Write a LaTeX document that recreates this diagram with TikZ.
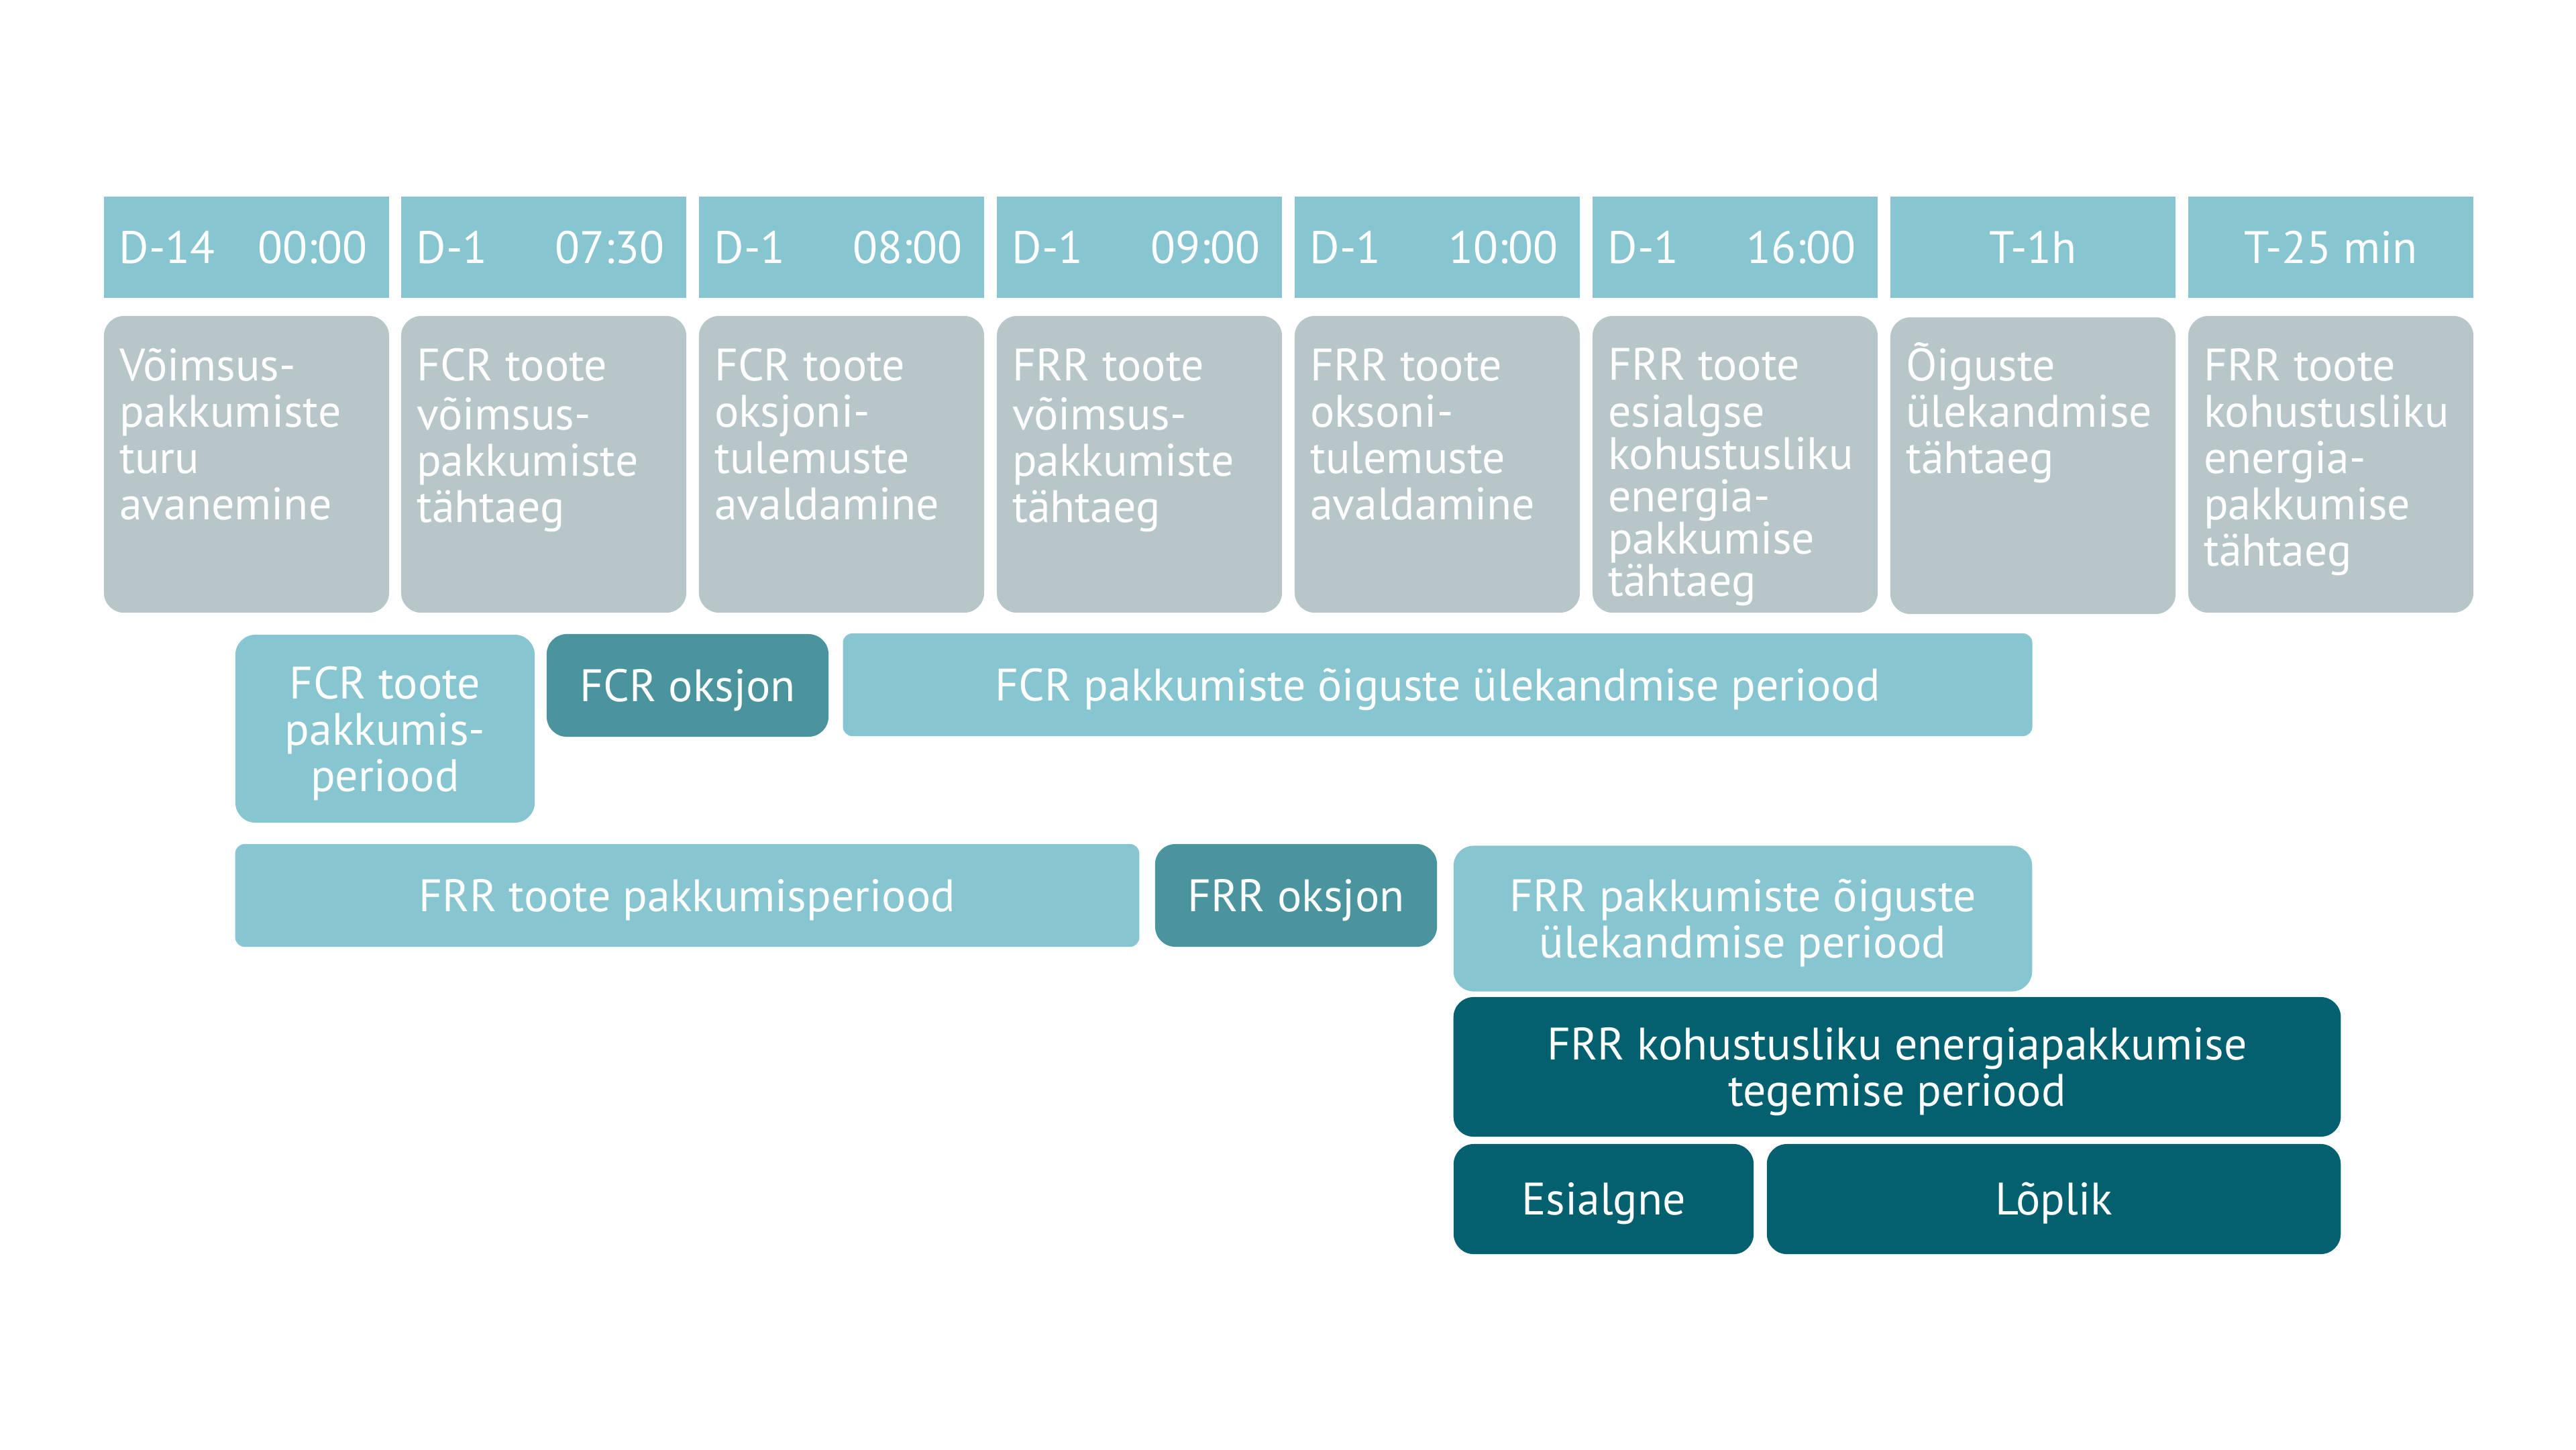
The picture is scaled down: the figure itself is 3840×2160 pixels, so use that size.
\documentclass[tikz,border=0pt]{standalone}
\usepackage{fontspec}
\setmainfont{PT Sans}
\definecolor{hdrc}{HTML}{87C6D0}
\definecolor{grayc}{HTML}{B7C6C9}
\definecolor{midc}{HTML}{4A949E}
\definecolor{darkc}{HTML}{02606F}
\newcommand\fsz{\fontsize{19.3pt}{19.64pt}\selectfont}
\newcommand\fsm{\fontsize{19.3pt}{17.9pt}\selectfont}
\begin{document}
\begin{tikzpicture}[x=0.01cm,y=-0.01cm,
  every node/.style={inner sep=0pt, outer sep=0pt, text=white, font=\fsz},
  hdr/.style={fill=hdrc, minimum width=4.25cm, minimum height=1.51cm},
  gbox/.style={fill=grayc, rounded corners=0.3cm, minimum width=4.25cm, minimum height=4.42cm},
  gtext/.style={align=left, anchor=north west},
  cbox/.style={rounded corners=0.3cm, align=center, text depth=0pt},
  oneline/.style={text height=0.47cm},
  lbox/.style={cbox, fill=hdrc},
  mbox/.style={cbox, fill=midc},
  dbox/.style={cbox, fill=darkc}]
\useasboundingbox[fill=white] (0,0) rectangle (3840,2160);
% header row
\node[hdr] (h1) at (367.5,368.5) {\makebox[4.25cm]{\hspace{0.23cm}D-14\hfill 00:00\hspace{0.33cm}}};
\node[hdr] (h2) at (810.5,368.5) {\makebox[4.25cm]{\hspace{0.23cm}D-1\hfill 07:30\hspace{0.33cm}}};
\node[hdr] (h3) at (1254.5,368.5) {\makebox[4.25cm]{\hspace{0.23cm}D-1\hfill 08:00\hspace{0.33cm}}};
\node[hdr] (h4) at (1698.5,368.5) {\makebox[4.25cm]{\hspace{0.23cm}D-1\hfill 09:00\hspace{0.33cm}}};
\node[hdr] (h5) at (2142.5,368.5) {\makebox[4.25cm]{\hspace{0.23cm}D-1\hfill 10:00\hspace{0.33cm}}};
\node[hdr] (h6) at (2586.5,368.5) {\makebox[4.25cm]{\hspace{0.23cm}D-1\hfill 16:00\hspace{0.33cm}}};
\node[hdr] (h7) at (3030.5,368.5) {T-1h};
\node[hdr] (h8) at (3474.5,368.5) {T-25 min};
% grey boxes
\node[gbox] (g1) at (367.5,692) {};
\node[gbox] (g2) at (810.5,692) {};
\node[gbox] (g3) at (1254.5,692) {};
\node[gbox] (g4) at (1698.5,692) {};
\node[gbox] (g5) at (2142.5,692) {};
\node[gbox] (g6) at (2586.5,692) {};
\node[gbox] (g7) at (3030.5,694) {};
\node[gbox] (g8) at (3474.5,692) {};
\node[gtext] (t1) at (178,519) {\strut\smash{Võimsus-}\\pakkumiste\\turu\\avanemine};
\node[gtext] (t2) at (621,519) {\strut\smash{FCR toote}\\võimsus-\\pakkumiste\\tähtaeg};
\node[gtext] (t3) at (1065,519) {\strut\smash{FCR toote}\\oksjoni-\\tulemuste\\avaldamine};
\node[gtext] (t4) at (1509,519) {\strut\smash{FRR toote}\\võimsus-\\pakkumiste\\tähtaeg};
\node[gtext] (t5) at (1953,519) {\strut\smash{FRR toote}\\oksoni-\\tulemuste\\avaldamine};
\node[gtext, font=\fsm] (t6) at (2397,522) {\strut\smash{FRR toote}\\esialgse\\kohustusliku\\energia-\\pakkumise\\tähtaeg};
\node[gtext] (t7) at (2841,519) {\strut\smash{Õiguste}\\ülekandmise\\tähtaeg};
\node[gtext] (t8) at (3285,519) {\strut\smash{FRR toote}\\kohustusliku\\energia-\\pakkumise\\tähtaeg};
% FCR row
\node[lbox, minimum width=4.46cm, minimum height=2.80cm] (fcrp) at (574,1086) {FCR toote\\pakkumis-\\periood};
\node[mbox, oneline, minimum width=4.20cm, minimum height=1.53cm] (fcro) at (1025,1021.5) {FCR oksjon};
\node[lbox, oneline, rounded corners=0.14cm, minimum width=17.72cm, minimum height=1.53cm] (fcrt) at (2143,1020.5) {FCR pakkumiste õiguste ülekandmise periood};
% FRR row
\node[lbox, oneline, rounded corners=0.14cm, minimum width=13.47cm, minimum height=1.53cm] (frrp) at (1024.5,1334.5) {FRR toote pakkumisperiood};
\node[mbox, oneline, minimum width=4.20cm, minimum height=1.53cm] (frro) at (1932,1334.5) {FRR oksjon};
\node[lbox, minimum width=8.62cm, minimum height=2.17cm] (frrt) at (2598,1369) {FRR pakkumiste õiguste\\ülekandmise periood};
\node[dbox, minimum width=13.22cm, minimum height=2.08cm] (frrk) at (2828,1590) {FRR kohustusliku energiapakkumise\\tegemise periood};
\node[dbox, oneline, minimum width=4.47cm, minimum height=1.64cm] (esi) at (2390.5,1787) {Esialgne};
\node[dbox, oneline, minimum width=8.55cm, minimum height=1.64cm] (lop) at (3061.5,1787) {Lõplik};
\end{tikzpicture}
\end{document}
